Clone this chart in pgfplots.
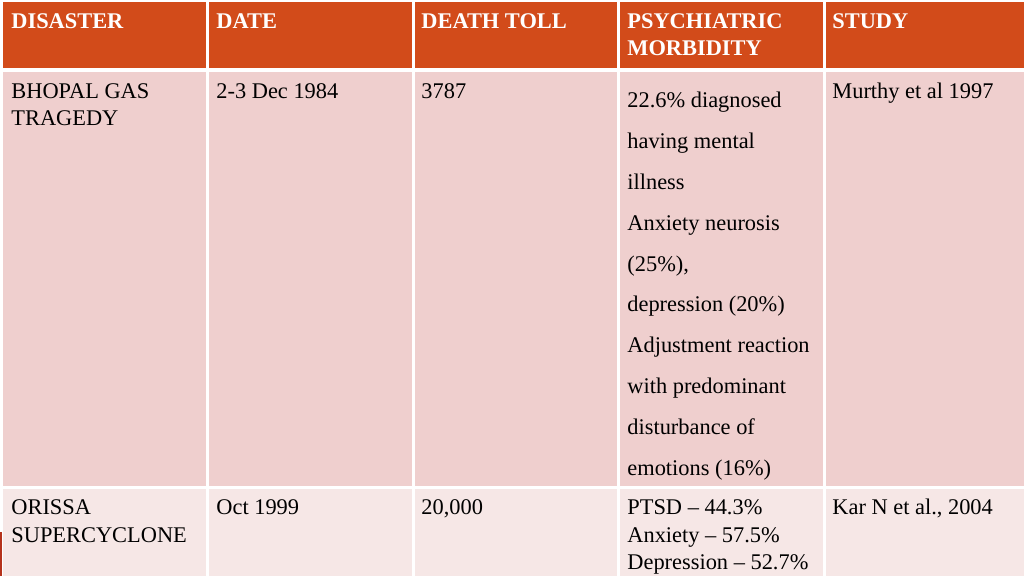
\documentclass[border=0pt]{standalone}
\usepackage{fontspec}
\setmainfont{Liberation Serif}
\usepackage{pgfplots}
\pgfplotsset{compat=1.18}

\definecolor{hdr}{HTML}{D24B1A}
\definecolor{rowa}{HTML}{EFCFCE}
\definecolor{rowb}{HTML}{F6E7E6}
\definecolor{mark}{HTML}{B5321C}

% one cell = filled rectangle in pixel coordinates (x0,y0)-(x1,y1)
\newcommand{\cell}[5]{\addplot[fill=#1, draw=none] coordinates {(#2,#3) (#4,#3) (#4,#5) (#2,#5)} -- cycle;}
\newcommand{\txt}[3]{\node[anchor=base west, inner sep=0pt, font=\fontsize{11.2}{13.5}\selectfont] at (axis cs:#1,#2+2) {#3};}
\newcommand{\htxt}[3]{\node[anchor=base west, inner sep=0pt, text=white, font=\fontsize{11.2}{13.5}\selectfont\bfseries] at (axis cs:#1,#2+2) {#3};}

\begin{document}
\begin{tikzpicture}
\begin{axis}[
    scale only axis,
    width=512pt, height=288pt,
    xmin=0, xmax=1024, ymin=0, ymax=576,
    y dir=reverse,
    hide axis,
    clip=false,
]
% background
\cell{white}{0}{0}{1024}{576}

% header row
\cell{hdr}{3}{2}{206}{68}
\cell{hdr}{209}{2}{412}{68}
\cell{hdr}{415}{2}{617}{68}
\cell{hdr}{620}{2}{823}{68}
\cell{hdr}{826}{2}{1024}{68}

% Bhopal row
\cell{rowa}{3}{72}{206}{486}
\cell{rowa}{209}{72}{412}{486}
\cell{rowa}{415}{72}{617}{486}
\cell{rowa}{620}{72}{823}{486}
\cell{rowa}{826}{72}{1024}{486}

% Orissa row
\cell{rowb}{3}{489}{206}{576}
\cell{rowb}{209}{489}{412}{576}
\cell{rowb}{415}{489}{617}{576}
\cell{rowb}{620}{489}{823}{576}
\cell{rowb}{826}{489}{1024}{576}

% small slide mark at left edge
\cell{mark}{0}{532}{2}{576}

% header text
\htxt{11}{27}{DISASTER}
\htxt{216}{27}{DATE}
\htxt{421}{27}{DEATH TOLL}
\htxt{627}{27}{PSYCHIATRIC}
\htxt{627}{54}{MORBIDITY}
\htxt{832}{27}{STUDY}

% row 1
\txt{11}{97}{BHOPAL GAS}
\txt{11}{124}{TRAGEDY}
\txt{216}{97}{2-3 Dec 1984}
\txt{421}{97}{3787}
\txt{627}{106}{22.6\% diagnosed}
\txt{627}{147}{having mental}
\txt{627}{188}{illness}
\txt{627}{229}{Anxiety neurosis}
\txt{627}{270}{(25\%),}
\txt{627}{310}{depression (20\%)}
\txt{627}{351}{Adjustment reaction}
\txt{627}{392}{with predominant}
\txt{627}{433}{disturbance of}
\txt{627}{474}{emotions (16\%)}
\txt{832}{97}{Murthy et al 1997}

% row 2
\txt{11}{513}{ORISSA}
\txt{11}{541}{SUPERCYCLONE}
\txt{216}{513}{Oct 1999}
\txt{421}{513}{20,000}
\txt{627}{513}{PTSD – 44.3\%}
\txt{627}{541}{Anxiety – 57.5\%}
\txt{627}{568}{Depression – 52.7\%}
\txt{832}{513}{Kar N et al., 2004}
\end{axis}
\end{tikzpicture}
\end{document}
